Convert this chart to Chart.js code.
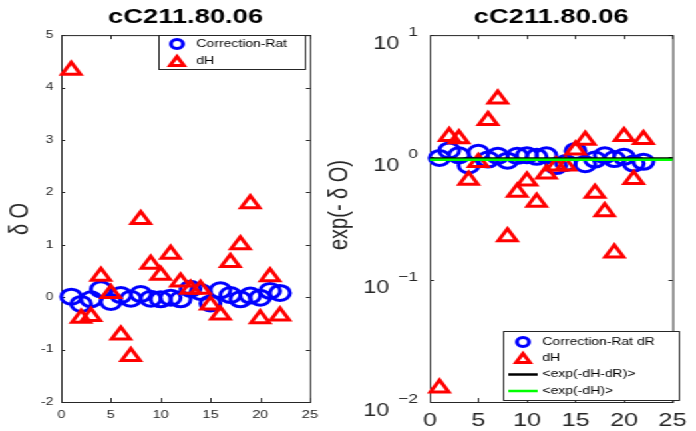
<!DOCTYPE html>
<html>
<head>
<meta charset="utf-8">
<script src="https://cdn.jsdelivr.net/npm/chart.js@4.4.1/dist/chart.umd.min.js"></script>
<style>
  html, body { margin: 0; padding: 0; background: #fff; overflow: hidden; }
  /* the figure is laid out narrow, then stretched sideways like the exported plot */
  #figure { position: absolute; left: 0; top: 0; width: 523px; height: 431px; transform: scaleX(1.3308); transform-origin: 0 0; }
  #figure canvas { position: absolute; top: 0; }
  #left { left: 0; }
  #right { left: 245px; }
</style>
</head>
<body>
<div id="figure">
  <canvas id="left" width="245" height="431"></canvas>
  <canvas id="right" width="278" height="431"></canvas>
</div>
<script>
// run numbers and per-run values
const runIndex = [1, 2, 3, 4, 5, 6, 7, 8, 9, 10, 11, 12, 13, 14, 15, 16, 17, 18, 19, 20, 21, 22];
const deltaR = [0.01, -0.13, -0.04, 0.15, -0.09, 0.04, -0.03, 0.06, -0.03, -0.04, -0.01, -0.04,
                0.16, 0.10, -0.12, 0.13, 0.04, -0.04, 0.03, -0.01, 0.12, 0.08];
const deltaH = [4.33, -0.40, -0.37, 0.40, 0.07, -0.72, -1.13, 1.48, 0.63, 0.42, 0.82, 0.29,
                0.15, 0.15, -0.15, -0.34, 0.66, 1.00, 1.78, -0.41, 0.39, -0.36];
const expDeltaR = [0.99, 1.14, 1.04, 0.86, 1.09, 0.96, 1.03, 0.94, 1.03, 1.04, 1.01, 1.04,
                   0.85, 0.90, 1.13, 0.88, 0.96, 1.04, 0.97, 1.01, 0.89, 0.92];
const expDeltaH = [0.013, 1.48, 1.42, 0.65, 0.91, 2.0, 3.0, 0.225, 0.52, 0.64, 0.43, 0.73,
                   0.85, 0.85, 1.15, 1.38, 0.51, 0.36, 0.165, 1.48, 0.66, 1.40];
const meanExpHR = 0.98;   // <exp(-dH-dR)>
const meanExpH = 0.955;   // <exp(-dH)>
const meanSpan = [0, 25];

const xTicks = [0, 5, 10, 15, 20, 25];
const linTicks = [-2, -1, 0, 1, 2, 3, 4, 5];
const logTicks = [0.01, 0.1, 1, 10];
const plotTitle = 'cC211.80.06';

const FONT = '"Liberation Sans", Arial, Helvetica, sans-serif';
const AXIS = '#262626';

const pts = ys => runIndex.map((x, i) => ({ x, y: ys[i] }));

function markerSet(label, ys, style, radius, color) {
    return {
        label, data: pts(ys), pointStyle: style, pointRadius: radius, pointHoverRadius: radius,
        pointBorderWidth: 3, pointBorderColor: color, pointBackgroundColor: 'rgba(0,0,0,0)',
        showLine: false, clip: false
    };
}

function meanLine(label, value, color) {
    return {
        label, data: meanSpan.map(x => ({ x, y: value })), showLine: true,
        borderColor: color, borderWidth: 2.5, pointRadius: 0, clip: false
    };
}

// box round the axes with inward ticks on all four sides
const axesBox = {
    id: 'axesBox',
    beforeDatasetsDraw(chart) {
        const { ctx, chartArea: a, scales } = chart;
        ctx.save();
        ctx.strokeStyle = AXIS;
        ctx.lineWidth = 1;
        ctx.strokeRect(a.left + 0.5, a.top + 0.5, a.right - a.left, a.bottom - a.top);
        ctx.beginPath();
        scales.x.ticks.forEach(t => {
            const px = Math.round(scales.x.getPixelForValue(t.value)) + 0.5;
            ctx.moveTo(px, a.bottom); ctx.lineTo(px, a.bottom - 4);
            ctx.moveTo(px, a.top); ctx.lineTo(px, a.top + 4);
        });
        scales.y.ticks.forEach(t => {
            const py = Math.round(scales.y.getPixelForValue(t.value)) + 0.5;
            ctx.moveTo(a.left, py); ctx.lineTo(a.left + 3, py);
            ctx.moveTo(a.right, py); ctx.lineTo(a.right - 3, py);
        });
        ctx.stroke();
        ctx.restore();
    }
};

function drawMarker(ctx, kind, color, x, y, size) {
    ctx.strokeStyle = color;
    ctx.lineWidth = kind === 'line' ? 2.5 : 3;
    ctx.beginPath();
    if (kind === 'circle') {
        ctx.arc(x, y, size, 0, Math.PI * 2);
    } else if (kind === 'triangle') {
        for (let k = 0; k < 3; k++) {
            const ang = k * 2 * Math.PI / 3;
            const px = x + Math.sin(ang) * size, py = y - Math.cos(ang) * size;
            if (k) ctx.lineTo(px, py); else ctx.moveTo(px, py);
        }
        ctx.closePath();
    } else {
        ctx.moveTo(x - 11, y); ctx.lineTo(x + 11, y);
    }
    ctx.stroke();
}

// y label, legend box and (for the log axis) power-of-ten tick labels
function overlay(cfg) {
    return {
        id: 'overlay',
        afterDraw(chart) {
            const ctx = chart.ctx;
            ctx.save();
            ctx.translate(cfg.ylabel.x, cfg.ylabel.y);
            ctx.rotate(-Math.PI / 2);
            ctx.font = `20px ${FONT}`;
            ctx.fillStyle = AXIS;
            ctx.textAlign = 'center';
            ctx.textBaseline = 'middle';
            ctx.fillText(cfg.ylabel.text, 0, 0);
            ctx.restore();

            if (cfg.powers) {
                const y = chart.scales.y;
                const right = chart.chartArea.left - 9;
                ctx.save();
                ctx.fillStyle = AXIS;
                ctx.textAlign = 'right';
                ctx.textBaseline = 'alphabetic';
                logTicks.forEach(v => {
                    const py = y.getPixelForValue(v);
                    const e = Math.round(Math.log10(v));
                    const exp = e < 0 ? '\u2212' + Math.abs(e) : String(e);
                    ctx.font = `13px ${FONT}`;
                    const w = ctx.measureText(exp).width;
                    ctx.fillText(exp, right, py + 1);
                    ctx.font = `17.5px ${FONT}`;
                    ctx.fillText('10', right - w - 6.8, py + 13.5);
                });
                ctx.restore();
            }

            const L = cfg.legend;
            ctx.save();
            ctx.fillStyle = '#fff';
            ctx.fillRect(L.x, L.y, L.w, L.h);
            ctx.strokeStyle = AXIS;
            ctx.lineWidth = 1;
            ctx.strokeRect(L.x + 0.5, L.y + 0.5, L.w, L.h);
            ctx.font = `10.5px ${FONT}`;
            ctx.textAlign = 'left';
            ctx.textBaseline = 'middle';
            L.items.forEach((it, i) => {
                const ry = L.rowY[i];
                const size = it.kind === 'circle' ? 4.5 : 6;
                drawMarker(ctx, it.kind, it.color, L.markX, it.kind === 'triangle' ? ry + 1.5 : ry, size);
                ctx.fillStyle = '#000';
                ctx.fillText(it.text, L.textX, ry);
            });
            ctx.restore();
        }
    };
}

const titleOpts = {
    display: true, text: plotTitle, fullSize: false, color: '#000',
    font: { family: FONT, size: 20.5, weight: 'bold', lineHeight: 1.2 },
    padding: { top: 5.5, bottom: 5 }
};

const baseOpts = (xFont, padRight, yScale) => ({
    responsive: false,
    animation: false,
    events: [],
    layout: { padding: { top: 0, right: padRight, bottom: 0, left: 0 } },
    plugins: { legend: { display: false }, tooltip: { enabled: false }, title: titleOpts },
    scales: {
        x: {
            type: 'linear', min: 0, max: 25,
            grid: { display: false, drawTicks: false }, border: { display: false },
            afterBuildTicks: s => { s.ticks = xTicks.map(v => ({ value: v })); },
            ticks: { padding: xFont.pad, color: AXIS, maxRotation: 0, autoSkip: false, font: { family: FONT, size: xFont.size } },
            afterFit: s => { s.height = 29; }
        },
        y: yScale
    }
});

// left panel: raw delta values
new Chart(document.getElementById('left'), {
    type: 'scatter',
    data: {
        datasets: [
            markerSet('dH', deltaH, 'triangle', 8, '#ff0000'),
            markerSet('Correction-Rat', deltaR, 'circle', 7.5, '#0000ff')
        ]
    },
    options: baseOpts({ size: 11, pad: 6 }, 12, {
        type: 'linear', min: -2, max: 5,
        grid: { display: false, drawTicks: false }, border: { display: false },
        afterBuildTicks: s => { s.ticks = linTicks.map(v => ({ value: v })); },
        ticks: { padding: 6, color: AXIS, font: { family: FONT, size: 10.5 } },
        afterFit: s => { s.width = 46; }
    }),
    plugins: [axesBox, overlay({
        ylabel: { text: 'δ O', x: 15, y: 219 },
        legend: {
            x: 119, y: 35, w: 110, h: 34, markX: 133, textX: 147.5, rowY: [44, 61],
            items: [
                { kind: 'circle', color: '#0000ff', text: 'Correction-Rat' },
                { kind: 'triangle', color: '#ff0000', text: 'dH' }
            ]
        }
    })]
});

// right panel: exponentiated values on a log axis
new Chart(document.getElementById('right'), {
    type: 'scatter',
    data: {
        datasets: [
            meanLine('<exp(-dH)>', meanExpH, '#00ff00'),
            meanLine('<exp(-dH-dR)>', meanExpHR, '#000000'),
            markerSet('dH', expDeltaH, 'triangle', 8, '#ff0000'),
            markerSet('Correction-Rat dR', expDeltaR, 'circle', 7.5, '#0000ff')
        ]
    },
    options: baseOpts({ size: 19, pad: 7 }, 13, {
        type: 'logarithmic', min: 0.01, max: 10,
        grid: { display: false, drawTicks: false }, border: { display: false },
        afterBuildTicks: s => { s.ticks = logTicks.map(v => ({ value: v })); },
        ticks: { display: false },
        afterFit: s => { s.width = 78; }
    }),
    plugins: [axesBox, overlay({
        ylabel: { text: 'exp(- δ O)', x: 10.6, y: 205 },
        powers: true,
        legend: {
            x: 133, y: 331, w: 132, h: 69, markX: 148, textX: 162.5, rowY: [342, 358, 374.5, 391],
            items: [
                { kind: 'circle', color: '#0000ff', text: 'Correction-Rat dR' },
                { kind: 'triangle', color: '#ff0000', text: 'dH' },
                { kind: 'line', color: '#000000', text: '<exp(-dH-dR)>' },
                { kind: 'line', color: '#00ff00', text: '<exp(-dH)>' }
            ]
        }
    })]
});
</script>
</body>
</html>
